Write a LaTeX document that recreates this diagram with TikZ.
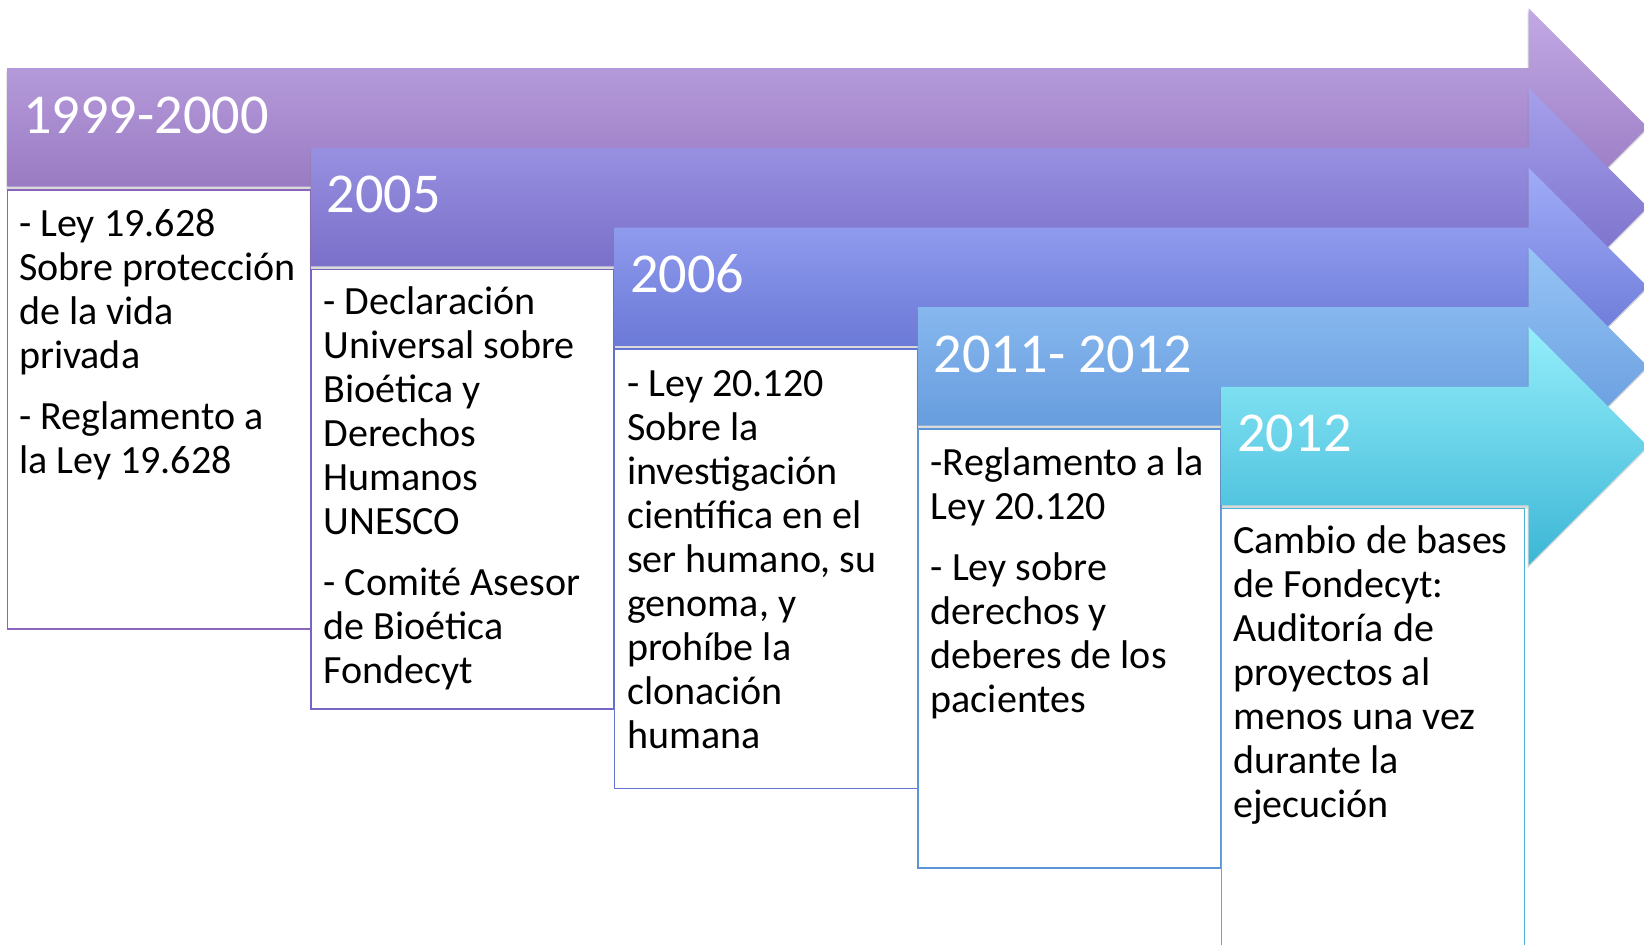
\documentclass[tikz,border=0pt]{standalone}
\usepackage{fontspec}
\setmainfont{Carlito}
\usetikzlibrary{shadows,calc}
\definecolor{a1t}{HTML}{C2A9E5}\definecolor{a1b}{HTML}{8C6CB8}
\definecolor{a2t}{HTML}{A6A0EC}\definecolor{a2b}{HTML}{6C60BE}
\definecolor{a3t}{HTML}{A0ACF8}\definecolor{a3b}{HTML}{5A68CC}
\definecolor{a4t}{HTML}{96C4F6}\definecolor{a4b}{HTML}{5890D6}
\definecolor{a5t}{HTML}{94EEFA}\definecolor{a5b}{HTML}{3CB6D6}
\definecolor{e1}{HTML}{8C66BC}\definecolor{e2}{HTML}{7466C4}
\definecolor{e3}{HTML}{6474D0}\definecolor{e4}{HTML}{5C94D8}
\definecolor{e5}{HTML}{4CB4D8}
\newcommand{\fstrut}{\rule{0pt}{30pt}}
\begin{document}
\begin{tikzpicture}[x=1pt,y=-1pt,
  arrowfill/.style={drop shadow={opacity=0.3,shadow xshift=-1pt,shadow yshift=-3pt}},
  infobox/.style={fill=white,line width=1.5pt,minimum width=289pt,minimum height=419pt,
    anchor=north west,inner sep=0pt,outer sep=0pt},
  yeartext/.style={anchor=base west,text=white,inner sep=0pt,font=\fontsize{53.7}{60}\selectfont},
  bodytext/.style={anchor=north west,align=left,inner sep=0pt,text=black,font=\fontsize{38.2}{42}\selectfont}]
\useasboundingbox (0,0) rectangle (1568,901);
\foreach \i/\ct/\cb/\ce in {0/a1t/a1b/e1,1/a2t/a2b/e2,2/a3t/a3b/e3,3/a4t/a4b/e4,4/a5t/a5b/e5}{
  \pgfmathsetmacro{\L}{7+289.5*\i}
  \pgfmathsetmacro{\T}{65+76*\i}
  \pgfmathsetmacro{\B}{\T+113}
  \pgfmathsetmacro{\M}{\T+56.5}
  \pgfmathsetmacro{\HT}{\T-57}
  \pgfmathsetmacro{\HB}{\B+57}
  \path[arrowfill,top color=\ct,bottom color=\cb]
    (\L,\T) -- (1458,\T) -- (1458,\HT) -- (1571.5,\M) -- (1458,\HB) -- (1458,\B) -- (\L,\B) -- cycle;
  \node[infobox,draw=\ce] (box\i) at (\L,\B+3) {};
  \node[yeartext] (year\i) at (\L+15,\T+62) {};
}
\node[yeartext] at (year0.base west) {1999-2000};
\node[yeartext] at (year1.base west) {2005};
\node[yeartext] at (year2.base west) {2006};
\node[yeartext] at (year3.base west) {2011- 2012};
\node[yeartext] at (year4.base west) {2012};
\node[bodytext] (t0) at ($(box0.north west)+(11,14.5)$) {\fstrut- Ley 19.628\\Sobre protección\\de la vida\\privada\\[16pt]- Reglamento a\\la Ley 19.628};
\node[bodytext] (t1) at ($(box1.north west)+(12,12.5)$) {\fstrut- Declaración\\Universal sobre\\Bioética y\\Derechos\\Humanos\\UNESCO\\[16pt]- Comité Asesor\\de Bioética\\Fondecyt};
\node[bodytext] (t2) at ($(box2.north west)+(12,14.5)$) {\fstrut- Ley 20.120\\Sobre la\\investigación\\científica en el\\ser humano, su\\genoma, y\\prohíbe la\\clonación\\humana};
\node[bodytext] (t3) at ($(box3.north west)+(12,14.5)$) {\fstrut-Reglamento a la\\Ley 20.120\\[16pt]- Ley sobre\\derechos y\\deberes de los\\pacientes};
\node[bodytext] (t4) at ($(box4.north west)+(11,12.5)$) {\fstrut Cambio de bases\\de Fondecyt:\\Auditoría de\\proyectos al\\menos una vez\\durante la\\ejecución};
\end{tikzpicture}
\end{document}
